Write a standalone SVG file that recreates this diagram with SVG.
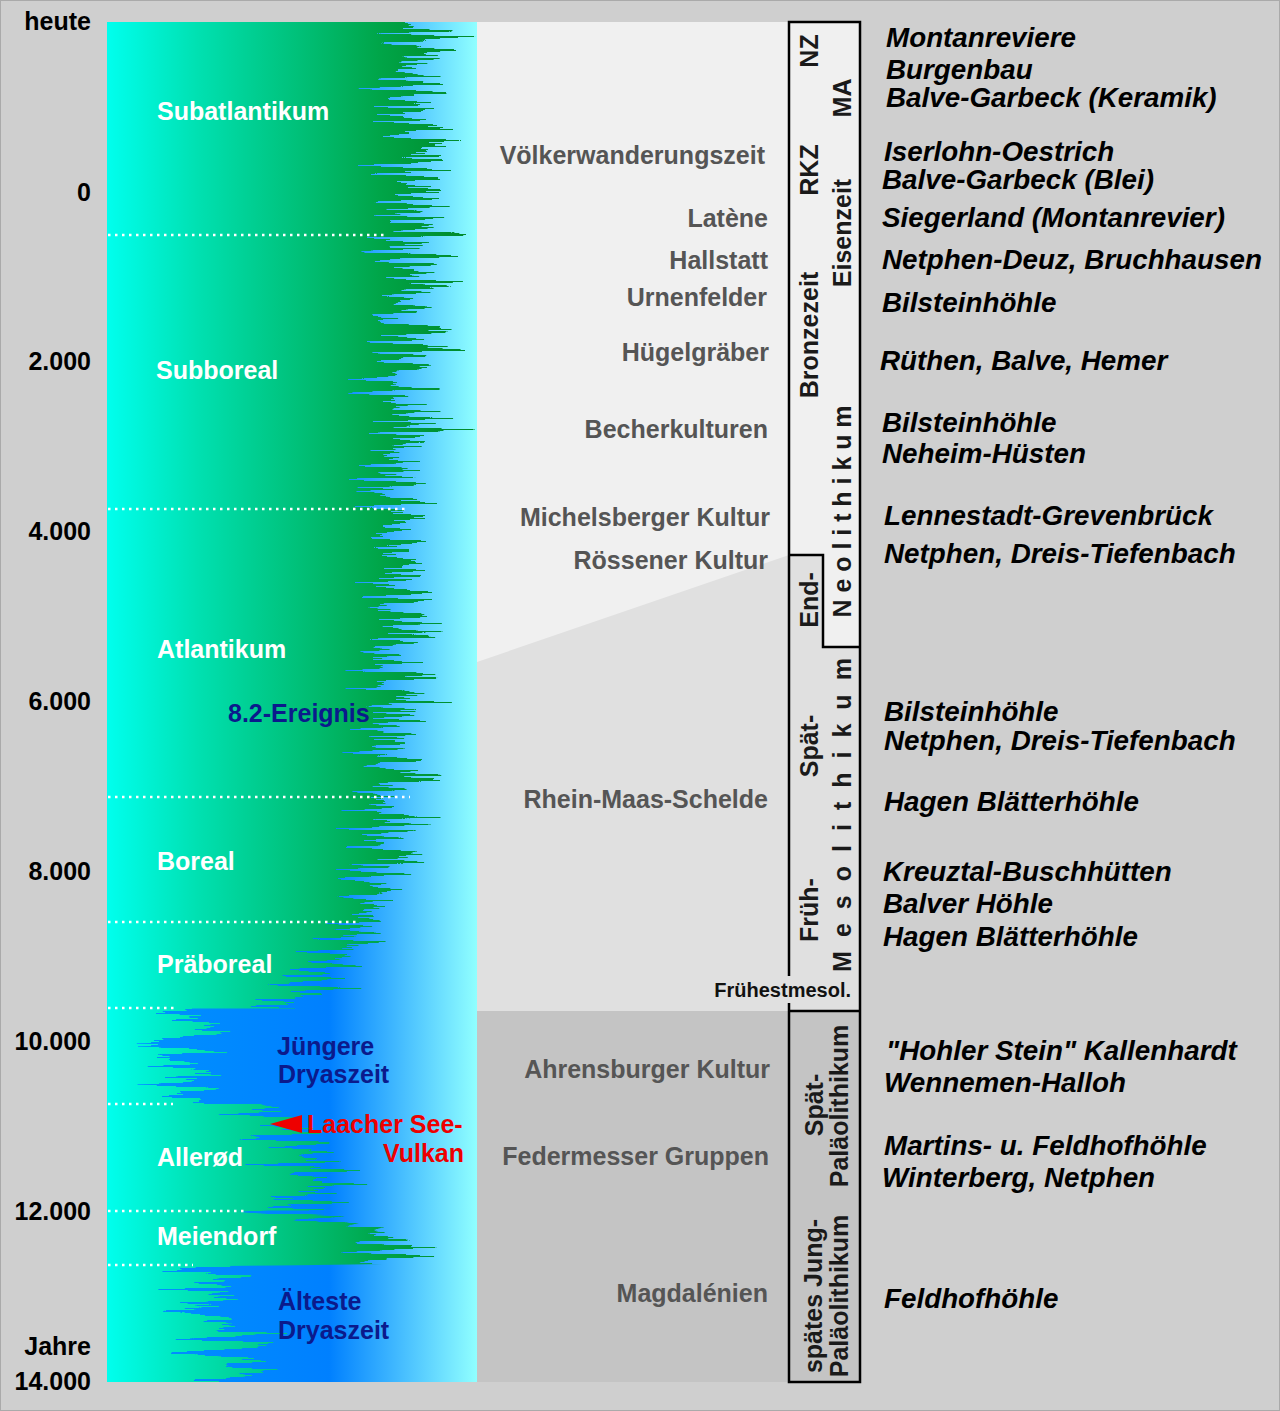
<svg xmlns="http://www.w3.org/2000/svg" width="1280" height="1411" viewBox="0 0 1280 1411">
<defs>
<style>
text{font-family:"Liberation Sans",Arial,sans-serif;font-weight:bold;font-size:25px}
.ax{fill:#000;text-anchor:end}
.wl{fill:#fff}
.bl{fill:#0b1a8c}
.rd{fill:#ee0000}
.mid{fill:#555;text-anchor:end}
.vt{fill:#1a1a1a;text-anchor:middle}
.site{fill:#000;font-style:italic;font-size:27.8px}
.dot{stroke:#fff;stroke-width:2.5;stroke-dasharray:2.5 4.5;fill:none}
.box{stroke:#000;stroke-width:2.5;fill:none}
</style>
<linearGradient id="gBlue" gradientUnits="userSpaceOnUse" x1="107" y1="0" x2="477" y2="0">
<stop offset="0" stop-color="#00f0ff"/>
<stop offset="0.12" stop-color="#0090ff"/>
<stop offset="0.6" stop-color="#0080ff"/>
<stop offset="0.78" stop-color="#40b8ff"/>
<stop offset="1" stop-color="#90ffff"/>
</linearGradient>
<linearGradient id="gGreen" gradientUnits="userSpaceOnUse" x1="107" y1="0" x2="477" y2="0">
<stop offset="0" stop-color="#00ffee"/>
<stop offset="0.25" stop-color="#00e0b0"/>
<stop offset="0.52" stop-color="#00c078"/>
<stop offset="0.74" stop-color="#00a548"/>
<stop offset="0.92" stop-color="#008f30"/>
<stop offset="1" stop-color="#008a2c"/>
</linearGradient>
<filter id="jag" filterUnits="userSpaceOnUse" x="-200" y="0" width="1480" height="1411" color-interpolation-filters="sRGB">
<feTurbulence type="fractalNoise" baseFrequency="0.003 0.22" numOctaves="3" seed="5" result="n"/>
<feColorMatrix in="n" type="matrix" values="1 0 0 0 0  0 0 0 0 0.5  0 0 0 0 0  0 0 0 0 1" result="m"/>
<feDisplacementMap in="SourceGraphic" in2="m" scale="190" xChannelSelector="R" yChannelSelector="G"/>
</filter>
<mask id="greenMask" maskUnits="userSpaceOnUse" x="0" y="0" width="1280" height="1411">
<g filter="url(#jag)">
<path fill="#fff" d="M-100,22 L418,22 L413,100 L413,200 L408,300 L403,400 L398,500 L398,600 L393,700 L388,800 L378,870 L368,920 L345,950 L312,975 L292,1000 L292,1008.5 L182,1008.5 L188,1030 L192,1060 L200,1090 L200,1104 L240,1104 L285,1130 L310,1160 L320,1190 L300,1210.5 L245,1210.5 L320,1216 L380,1232 L400,1250 L380,1264 L205,1266 L220,1300 L238,1340 L240,1382 L-100,1382 Z"/>
</g>
</mask>
<clipPath id="bandClip"><rect x="107" y="22" width="370" height="1360"/></clipPath>
</defs>

<rect x="0.5" y="0.5" width="1279" height="1410" fill="#cfcfcf" stroke="#aaaaaa" stroke-width="1"/>

<g id="climate-band" clip-path="url(#bandClip)">
<rect x="107" y="22" width="370" height="1360" fill="url(#gBlue)"/>
<rect x="107" y="22" width="370" height="1360" fill="url(#gGreen)" mask="url(#greenMask)"/>
<g id="boundaries">
<line class="dot" x1="108" y1="235" x2="386" y2="235"/>
<line class="dot" x1="108" y1="509" x2="406" y2="509"/>
<line class="dot" x1="108" y1="797" x2="410" y2="797"/>
<line class="dot" x1="108" y1="922" x2="356" y2="922"/>
<line class="dot" x1="108" y1="1008" x2="178" y2="1008"/>
<line class="dot" x1="108" y1="1104" x2="173" y2="1104"/>
<line class="dot" x1="108" y1="1211" x2="245" y2="1211"/>
<line class="dot" x1="108" y1="1265" x2="193" y2="1265"/>
</g>
</g>

<g id="axis">
<text class="ax" x="91" y="30">heute</text>
<text class="ax" x="91" y="201">0</text>
<text class="ax" x="91" y="370">2.000</text>
<text class="ax" x="91" y="540">4.000</text>
<text class="ax" x="91" y="710">6.000</text>
<text class="ax" x="91" y="880">8.000</text>
<text class="ax" x="91" y="1050">10.000</text>
<text class="ax" x="91" y="1220">12.000</text>
<text class="ax" x="91" y="1355">Jahre</text>
<text class="ax" x="91" y="1390">14.000</text>
</g>

<g id="climate-labels">
<text class="wl" x="157" y="120">Subatlantikum</text>
<text class="wl" x="156" y="379">Subboreal</text>
<text class="wl" x="157" y="658">Atlantikum</text>
<text class="wl" x="157" y="870">Boreal</text>
<text class="wl" x="157" y="973">Präboreal</text>
<text class="wl" x="157" y="1166">Allerød</text>
<text class="wl" x="157" y="1245">Meiendorf</text>
<text class="bl" x="228" y="722">8.2-Ereignis</text>
<text class="bl" x="277" y="1055">Jüngere</text>
<text class="bl" x="278" y="1083">Dryaszeit</text>
<text class="bl" x="278" y="1310">Älteste</text>
<text class="bl" x="278" y="1339">Dryaszeit</text>
</g>

<g id="laacher-see">
<polygon class="rd" points="270,1124 302,1115 302,1133"/>
<text class="rd" x="307" y="1133">Laacher See-</text>
<text class="rd" x="464" y="1162" text-anchor="end">Vulkan</text>
</g>

<g id="cultures-panel">
<rect x="477" y="22" width="312" height="989" fill="#f0f0f0"/>
<polygon points="477,662 789,555 789,1011 477,1011" fill="#e0e0e0"/>
<rect x="477" y="1011" width="312" height="371" fill="#c4c4c4"/>
<text class="mid" x="765" y="164">Völkerwanderungszeit</text>
<text class="mid" x="768" y="227">Latène</text>
<text class="mid" x="768" y="269">Hallstatt</text>
<text class="mid" x="767" y="306">Urnenfelder</text>
<text class="mid" x="769" y="361">Hügelgräber</text>
<text class="mid" x="768" y="438">Becherkulturen</text>
<text class="mid" x="770" y="526">Michelsberger Kultur</text>
<text class="mid" x="768" y="569">Rössener Kultur</text>
<text class="mid" x="768" y="808">Rhein-Maas-Schelde</text>
<text class="mid" x="770" y="1078">Ahrensburger Kultur</text>
<text class="mid" x="769" y="1165">Federmesser Gruppen</text>
<text class="mid" x="768" y="1302">Magdalénien</text>
</g>

<g id="periods-column">
<polygon points="789,22 860,22 860,647 823,647 823,555 789,555" fill="#f0f0f0"/>
<polygon points="789,555 823,555 823,647 860,647 860,1011 789,1011" fill="#e0e0e0"/>
<rect x="789" y="1011" width="71" height="371" fill="#c4c4c4"/>
<path class="box" d="M789,976 V22 H860 V1382 H789 V1003"/>
<path class="box" d="M789,555 H823 V647 H860"/>
<path class="box" d="M789,1011 H860"/>
<text class="vt" transform="translate(818,51) rotate(-90)">NZ</text>
<text class="vt" transform="translate(851,98) rotate(-90)">MA</text>
<text class="vt" transform="translate(818,170) rotate(-90)">RKZ</text>
<text class="vt" transform="translate(851,233) rotate(-90)">Eisenzeit</text>
<text class="vt" transform="translate(818,335) rotate(-90)">Bronzezeit</text>
<text class="vt" transform="translate(851,508) rotate(-90)" letter-spacing="6.9">Neolithikum</text>
<text class="vt" transform="translate(818,600) rotate(-90)">End-</text>
<text class="vt" transform="translate(851,808) rotate(-90)" letter-spacing="14">Mesolithikum</text>
<text class="vt" transform="translate(818,746) rotate(-90)">Spät-</text>
<text class="vt" transform="translate(818,910) rotate(-90)">Früh-</text>
<text x="851" y="997" text-anchor="end" style="font-size:20px;fill:#111">Frühestmesol.</text>
<text class="vt" transform="translate(823,1105) rotate(-90)">Spät-</text>
<text class="vt" transform="translate(848,1106) rotate(-90)">Paläolithikum</text>
<text class="vt" transform="translate(822,1296) rotate(-90)">spätes Jung-</text>
<text class="vt" transform="translate(848,1296) rotate(-90)">Paläolithikum</text>
</g>

<g id="sites">
<text class="site" x="886" y="47">Montanreviere</text>
<text class="site" x="886" y="79">Burgenbau</text>
<text class="site" x="886" y="107">Balve-Garbeck (Keramik)</text>
<text class="site" x="884" y="161">Iserlohn-Oestrich</text>
<text class="site" x="882" y="189">Balve-Garbeck (Blei)</text>
<text class="site" x="882" y="227">Siegerland (Montanrevier)</text>
<text class="site" x="882" y="269">Netphen-Deuz, Bruchhausen</text>
<text class="site" x="882" y="312">Bilsteinhöhle</text>
<text class="site" x="880" y="370">Rüthen, Balve, Hemer</text>
<text class="site" x="882" y="432">Bilsteinhöhle</text>
<text class="site" x="882" y="463">Neheim-Hüsten</text>
<text class="site" x="884" y="525">Lennestadt-Grevenbrück</text>
<text class="site" x="884" y="563">Netphen, Dreis-Tiefenbach</text>
<text class="site" x="884" y="721">Bilsteinhöhle</text>
<text class="site" x="884" y="750">Netphen, Dreis-Tiefenbach</text>
<text class="site" x="884" y="811">Hagen Blätterhöhle</text>
<text class="site" x="883" y="881">Kreuztal-Buschhütten</text>
<text class="site" x="883" y="913">Balver Höhle</text>
<text class="site" x="883" y="946">Hagen Blätterhöhle</text>
<text class="site" x="886" y="1060">"Hohler Stein" Kallenhardt</text>
<text class="site" x="884" y="1092">Wennemen-Halloh</text>
<text class="site" x="884" y="1155">Martins- u. Feldhofhöhle</text>
<text class="site" x="882" y="1187">Winterberg, Netphen</text>
<text class="site" x="884" y="1308">Feldhofhöhle</text>
</g>
</svg>
